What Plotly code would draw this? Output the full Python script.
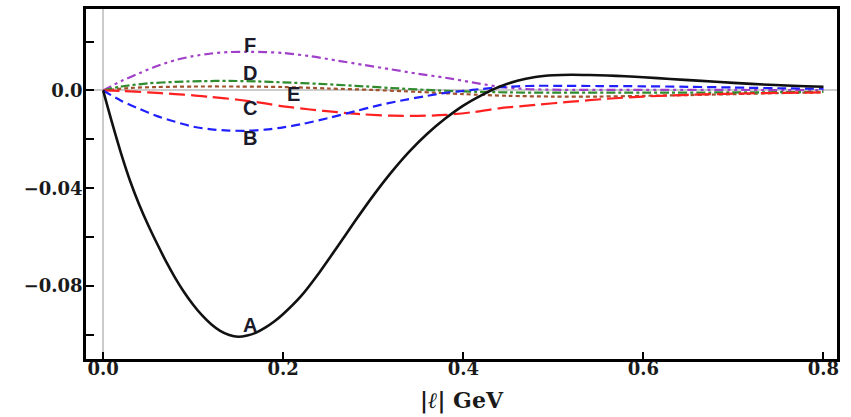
import plotly.graph_objects as go

# ---- data ----
xA = [0, 0.01, 0.02, 0.03, 0.04, 0.05, 0.06, 0.07, 0.08, 0.09, 0.10, 0.11, 0.12, 0.13, 0.14, 0.15, 0.16,
      0.17, 0.18, 0.19, 0.20, 0.22, 0.24, 0.26, 0.28, 0.30, 0.32, 0.34, 0.36, 0.38, 0.40, 0.42, 0.44, 0.46,
      0.48, 0.50, 0.52, 0.54, 0.56, 0.58, 0.60, 0.63, 0.66, 0.70, 0.74, 0.78, 0.80]
yA = [0, -0.0133, -0.0258, -0.0370, -0.0466, -0.0550, -0.0627, -0.0700, -0.0766, -0.0825, -0.0876, -0.0920,
      -0.0956, -0.0983, -0.1000, -0.1007, -0.1002, -0.0990, -0.0970, -0.0945, -0.0914, -0.0840, -0.0745,
      -0.0640, -0.0533, -0.0430, -0.0335, -0.0250, -0.0177, -0.0115, -0.0062, -0.0020, 0.0015, 0.0040,
      0.0055, 0.0062, 0.0064, 0.0063, 0.0061, 0.0058, 0.0054, 0.0047, 0.0040, 0.0031, 0.0023, 0.0017, 0.0015]

xB = [0, 0.02, 0.04, 0.06, 0.08, 0.10, 0.12, 0.14, 0.16, 0.18, 0.20, 0.22, 0.25, 0.28, 0.30, 0.33, 0.36,
      0.38, 0.40, 0.42, 0.44, 0.46, 0.48, 0.50, 0.55, 0.60, 0.65, 0.70, 0.75, 0.80]
yB = [0, -0.0042, -0.0075, -0.0105, -0.0128, -0.0148, -0.0159, -0.0164, -0.0165, -0.0160, -0.0151, -0.0138,
      -0.0113, -0.0085, -0.0066, -0.0042, -0.0022, -0.0010, -0.0002, 0.0006, 0.0013, 0.0017, 0.0019, 0.0019,
      0.0018, 0.0017, 0.0015, 0.0012, 0.0009, 0.0007]

xC = [0, 0.02, 0.05, 0.08, 0.10, 0.12, 0.15, 0.18, 0.20, 0.23, 0.26, 0.29, 0.32, 0.35, 0.38, 0.41, 0.44,
      0.48, 0.52, 0.56, 0.60, 0.65, 0.70, 0.75, 0.80]
yC = [0, -0.0002, -0.0008, -0.0015, -0.002, -0.0027, -0.0038, -0.0053, -0.0065, -0.0078, -0.0089, -0.0098,
      -0.0103, -0.0104, -0.0100, -0.0089, -0.0073, -0.0059, -0.0046, -0.0034, -0.0025, -0.0018, -0.0013,
      -0.0010, -0.0008]

xD = [0, 0.02, 0.05, 0.08, 0.11, 0.14, 0.17, 0.20, 0.24, 0.28, 0.32, 0.36, 0.40, 0.45, 0.50, 0.60, 0.70, 0.80]
yD = [0, 0.0016, 0.0029, 0.0035, 0.0038, 0.0039, 0.0037, 0.0033, 0.0027, 0.0019, 0.0010, 0.0002, -0.0004,
      -0.0008, -0.0009, -0.0009, -0.0008, -0.0006]

xE = [0, 0.03, 0.06, 0.10, 0.15, 0.20, 0.25, 0.30, 0.35, 0.40, 0.45, 0.50, 0.55, 0.60, 0.65, 0.70, 0.75, 0.80]
yE = [0, 0.0010, 0.0014, 0.0016, 0.0016, 0.0014, 0.0008, 0.0002, -0.0006, -0.0015, -0.0022, -0.0025,
      -0.0025, -0.0022, -0.0019, -0.0015, -0.0011, -0.0008]

xF = [0, 0.02, 0.04, 0.06, 0.08, 0.10, 0.12, 0.14, 0.16, 0.18, 0.20, 0.23, 0.26, 0.29, 0.32, 0.35, 0.38,
      0.41, 0.44, 0.47, 0.50, 0.60, 0.70, 0.80]
yF = [0, 0.0038, 0.0070, 0.0100, 0.0124, 0.0140, 0.0151, 0.0157, 0.0158, 0.0157, 0.0153, 0.0140, 0.0122,
      0.0104, 0.0086, 0.0068, 0.0052, 0.0033, 0.0015, 0.0006, 0.0003, 0.0002, 0.0002, 0.0001]

curve_labels = ["A", "B", "C", "D", "E", "F"]
label_x = [0.163, 0.163, 0.163, 0.163, 0.211, 0.163]
label_y = [-0.0959, -0.0194, -0.0071, 0.0073, -0.0014, 0.0187]

x_tickvals = [0, 0.2, 0.4, 0.6, 0.8]
x_ticktext = ["0.0", "0.2", "0.4", "0.6", "0.8"]
y_tickvals = [0.02, 0.0, -0.02, -0.04, -0.06, -0.08, -0.10]
y_ticktext = ["", "0.0", "", "\u22120.04", "", "\u22120.08", ""]

fig = go.Figure()

styles = [
    (xF, yF, "#a040c8", "9px,4px,3px,4px,3px,4px", 2.2),
    (xE, yE, "#a0522d", "4px,3px", 2.2),
    (xD, yD, "#2e8b2e", "9px,3px,3px,3px", 2.2),
    (xC, yC, "#ff2020", "16px,6px", 2.2),
    (xB, yB, "#2020ff", "9px,5px", 2.2),
    (xA, yA, "#111111", "solid", 2.6),
]
for xs, ys, col, dash, w in styles:
    fig.add_trace(go.Scatter(x=xs, y=ys, mode="lines", line=dict(color=col, dash=dash, width=w, shape="spline",
                                                                  smoothing=0.8),
                             showlegend=False, hoverinfo="skip"))

for t, lx, ly in zip(curve_labels, label_x, label_y):
    fig.add_annotation(x=lx, y=ly, text=t, showarrow=False,
                       font=dict(family="Liberation Sans", size=20, color="#1a1a2a", weight="bold"))

tick_font = dict(family="DejaVu Serif", size=18, color="#1a1a1a", weight="bold")

fig.update_layout(
    width=851, height=417,
    margin=dict(l=86, r=14, t=9, b=58),
    plot_bgcolor="white", paper_bgcolor="white",
    xaxis=dict(range=[-0.019, 0.815], tickvals=x_tickvals, ticktext=x_ticktext, automargin=False,
               ticks="inside", ticklen=7, tickwidth=2, tickcolor="black", ticklabelstandoff=-8,
               showline=True, linecolor="black", linewidth=2.5, mirror=True,
               showgrid=False, zeroline=True, zerolinecolor="#cccccc", zerolinewidth=2,
               tickfont=tick_font,
               title=dict(text="|<i>ℓ</i>| GeV",
                          font=dict(family="DejaVu Serif", size=22, color="#1a1a1a", weight="bold"),
                          standoff=15)),
    yaxis=dict(range=[-0.1098, 0.0333], tickvals=y_tickvals, ticktext=y_ticktext, automargin=False,
               ticks="inside", ticklen=8, tickwidth=2, tickcolor="black", ticklabelstandoff=-3,
               showline=True, linecolor="black", linewidth=2.5, mirror=True,
               showgrid=False, zeroline=True, zerolinecolor="#cccccc", zerolinewidth=2,
               tickfont=tick_font),
)

fig.write_html("out.html", config={"displayModeBar": False},
               post_script="document.body.style.margin='0';")
